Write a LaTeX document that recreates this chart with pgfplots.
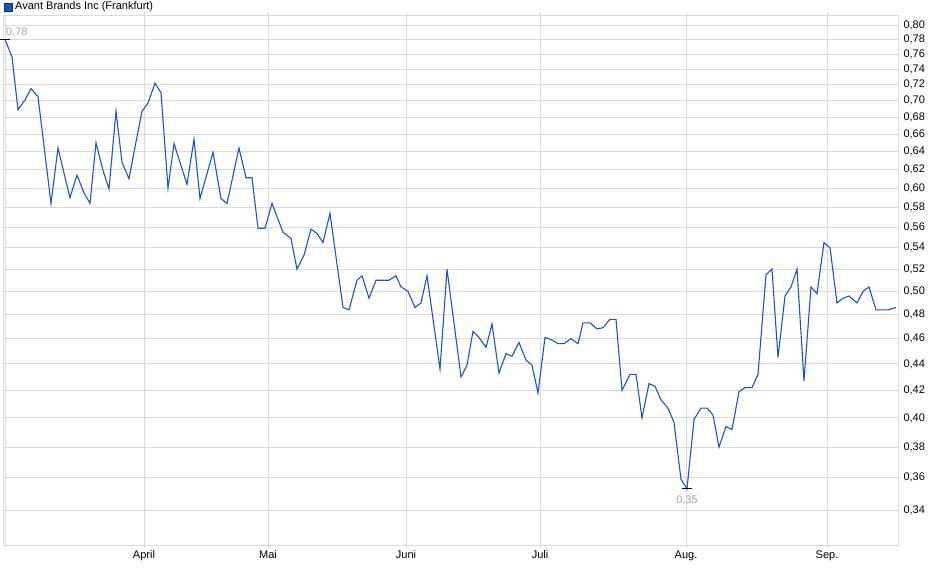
\documentclass[border=0pt]{standalone}
\usepackage{fontspec}
\setmainfont{Liberation Sans}
\usepackage{pgfplots}
\pgfplotsset{compat=1.18}
\definecolor{linie}{RGB}{25,85,195}
\definecolor{gitter}{RGB}{218,218,218}
\definecolor{marke}{RGB}{165,165,165}

\begin{document}
\begin{tikzpicture}[x=1pt,y=1pt]
\useasboundingbox (0,0) rectangle (940,579);
\begin{axis}[
    at={(3pt,34pt)}, anchor=south west,
    scale only axis,
    width=895pt, height=530pt,
    xmin=3, xmax=898,
    ymode=log,
    ymin=0.3197, ymax=0.8142,
    axis line style={gitter, line width=0.9pt},
    grid=major,
    major grid style={gitter, line width=0.9pt},
    xtick={5,144,268,406,540,686,827},
    xticklabels={,April,Mai,Juni,Juli,Aug.,Sep.},
    xtick style={gitter, line width=0.9pt},
    tick align=outside,
    major tick length=3pt,
    ytick={0.34,0.36,0.38,0.40,0.42,0.44,0.46,0.48,0.50,0.52,0.54,0.56,0.58,0.60,0.62,0.64,0.66,0.68,0.70,0.72,0.74,0.76,0.78,0.80},
    yticklabels={{0,34},{0,36},{0,38},{0,40},{0,42},{0,44},{0,46},{0,48},{0,50},{0,52},{0,54},{0,56},{0,58},{0,60},{0,62},{0,64},{0,66},{0,68},{0,70},{0,72},{0,74},{0,76},{0,78},{0,80}},
    ytick style={draw=none},
    yticklabel pos=right,
    yticklabel style={anchor=west, xshift=-1pt},
    xticklabel style={yshift=1pt},
    ticklabel style={font=\fontsize{11}{13}\selectfont},
    minor tick num=0,
    log basis y=10,
]

\addplot[linie, line width=1.1pt] coordinates {
    (5,0.780) (12,0.756) (18,0.689) (25,0.701) (31,0.715) (38,0.705)
    (51,0.584) (58,0.644) (64,0.616) (70,0.590) (77,0.614) (84,0.595)
    (90,0.584) (96,0.650) (103,0.619) (109,0.599) (116,0.687) (122,0.628)
    (129,0.610) (135,0.645) (142,0.687) (148,0.697) (155,0.722) (161,0.710)
    (168,0.600) (174,0.649) (187,0.604) (194,0.654) (200,0.589) (213,0.639)
    (221,0.589) (227,0.584) (239,0.644) (246,0.611) (252,0.611) (258,0.559)
    (265,0.559) (272,0.584) (283,0.555) (291,0.549) (297,0.520) (304,0.533)
    (311,0.558) (317,0.554) (323,0.545) (330,0.574) (343,0.486) (349,0.484)
    (357,0.510) (362,0.514) (369,0.494) (376,0.510) (382,0.510) (389,0.510)
    (396,0.514) (401,0.504) (408,0.500) (415,0.486) (421,0.490) (427,0.514)
    (440,0.436) (447,0.520) (461,0.430) (467,0.439) (473,0.466) (479,0.461)
    (486,0.453) (492,0.472) (499,0.433) (506,0.448) (512,0.446) (519,0.457)
    (526,0.443) (532,0.439) (538,0.418) (545,0.461) (552,0.459) (558,0.456)
    (564,0.456) (571,0.460) (578,0.456) (583,0.473) (590,0.473) (597,0.468)
    (603,0.469) (610,0.476) (616,0.476) (622,0.420) (630,0.432) (636,0.432)
    (642,0.400) (649,0.425) (655,0.423) (661,0.413) (668,0.407) (674,0.397)
    (681,0.359) (687,0.353) (694,0.399) (701,0.407) (707,0.407) (713,0.402)
    (719,0.380) (726,0.394) (732,0.392) (739,0.419) (745,0.422) (752,0.422)
    (758,0.432) (766,0.515) (772,0.520) (778,0.445) (785,0.496) (791,0.504)
    (797,0.520) (804,0.427) (811,0.504) (817,0.498) (824,0.545) (830,0.540)
    (837,0.490) (843,0.494) (849,0.496) (857,0.490) (863,0.500) (869,0.504)
    (876,0.484) (882,0.484) (888,0.484) (896,0.486)
};

% Hoch und Tief
\addplot[only marks, mark=-, mark size=5pt, black, mark options={line width=0.9pt}]
    coordinates {(5,0.780) (687,0.353)};

\node[anchor=south west, marke, font=\fontsize{11}{13}\selectfont, inner sep=1pt]
    at (axis cs:5,0.782) {0,78};
\node[anchor=north, marke, font=\fontsize{11}{13}\selectfont, inner sep=2pt]
    at (axis cs:687,0.350) {0,35};
\end{axis}

% Legende
\draw[draw=linie!55!black, fill=linie, line width=0.8pt] (4,568) rectangle (12,576);
\node[anchor=west, inner sep=0pt, font=\fontsize{11}{13}\selectfont] at (15,572) {Avant Brands Inc (Frankfurt)};
\end{tikzpicture}
\end{document}
